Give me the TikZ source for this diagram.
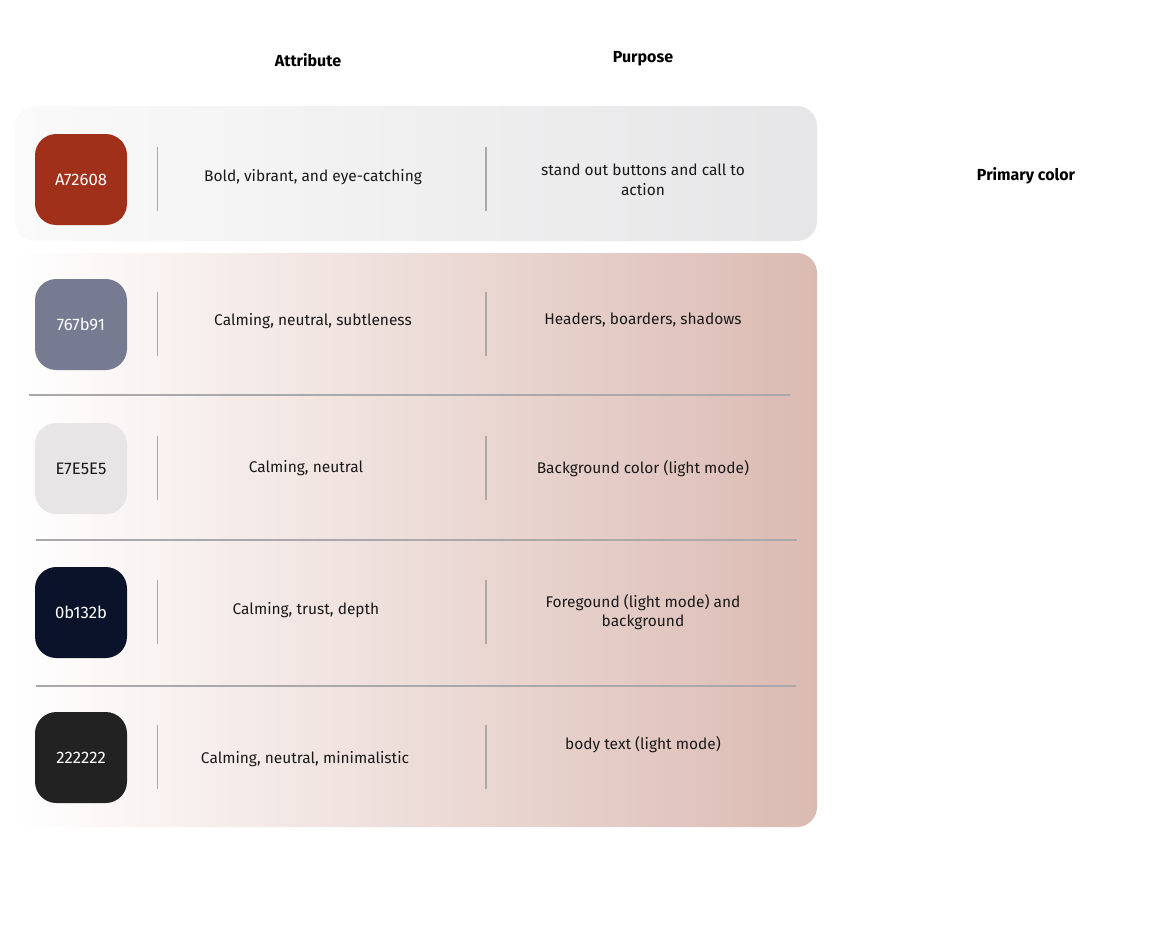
\documentclass[tikz,border=0pt]{standalone}
\usepackage{fontspec}
\setmainfont{Fira Sans}
\usepackage{tikz}

\definecolor{cA}{RGB}{160,48,26}
\definecolor{cB}{HTML}{767B91}
\definecolor{cC}{HTML}{E7E5E5}
\definecolor{cD}{HTML}{0B132B}
\definecolor{cE}{HTML}{222222}
\definecolor{topL}{RGB}{250,250,250}
\definecolor{topR}{RGB}{230,229,231}
\definecolor{botR}{RGB}{219,186,178}
\definecolor{ruleG}{RGB}{170,168,170}
\definecolor{inkD}{RGB}{25,25,25}

\tikzset{
  swatch/.style={rectangle, rounded corners=16pt, minimum width=69pt,
    minimum height=68.25pt, inner sep=0pt, font=\fontsize{12.5}{14}\selectfont},
  attr/.style={text=inkD, align=center, font=\fontsize{11.6}{14.8}\selectfont},
  head/.style={text=black, font=\bfseries\fontsize{12}{14}\selectfont},
  sepline/.style={draw=ruleG, line width=0.8pt},
}

\begin{document}
\begin{tikzpicture}[x=0.75pt,y=-0.75pt]
	\useasboundingbox[fill=white] (0,0) rectangle (1166,940);
	% panels
	\shade[left color=topL, right color=topR, rounded corners=15pt] (15,106) rectangle (817,241);
	\shade[left color=white, right color=botR, rounded corners=15pt] (15,253) rectangle (817,827);
	% headings
	\node[head] (hattr) at (308,60) {Attribute};
	\node[head] (hpurp) at (643,59) {Purpose};
	\node[head] (hprim) at (1026,176) {Primary color};
	% row rules
	\draw[sepline] (29,395) -- (790,395);
	\draw[sepline] (36,540) -- (797,540);
	\draw[sepline] (36,686) -- (796,686);
	% swatches and separators
	\foreach \n/\y/\col/\txt/\tcol in {1/178.5/cA/A72608/white, 2/323.5/cB/767b91/white,
	  3/467.5/cC/E7E5E5/inkD, 4/611.5/cD/0b132b/white, 5/756.5/cE/222222/white}
	{
		\node[swatch, fill=\col, text=\tcol] (sw\n) at (81,\y+1) {\txt};
		\draw[sepline] (157.5,\y-31.5) -- (157.5,\y+32);
		\draw[sepline] (486,\y-31.5) -- (486,\y+32);
	}
	% attributes
	\node[attr] (at1) at (313,177.5) {Bold, vibrant, and eye-catching};
	\node[attr] (at2) at (313,321.5) {Calming, neutral, subtleness};
	\node[attr] (at3) at (306,468.5) {Calming, neutral};
	\node[attr] (at4) at (306,610.5) {Calming, trust, depth};
	\node[attr] (at5) at (305,759.5) {Calming, neutral, minimalistic};
	% purposes
	\node[attr] (pu1) at (643,180) {stand out buttons and call to\\action};
	\node[attr] (pu2) at (643,319.5) {Headers, boarders, shadows};
	\node[attr] (pu3) at (643,468.5) {Background color (light mode)};
	\node[attr] (pu4) at (643,612) {Foregound (light mode) and\\background};
	\node[attr] (pu5) at (643,744.5) {body text (light mode)};
\end{tikzpicture}
\end{document}
